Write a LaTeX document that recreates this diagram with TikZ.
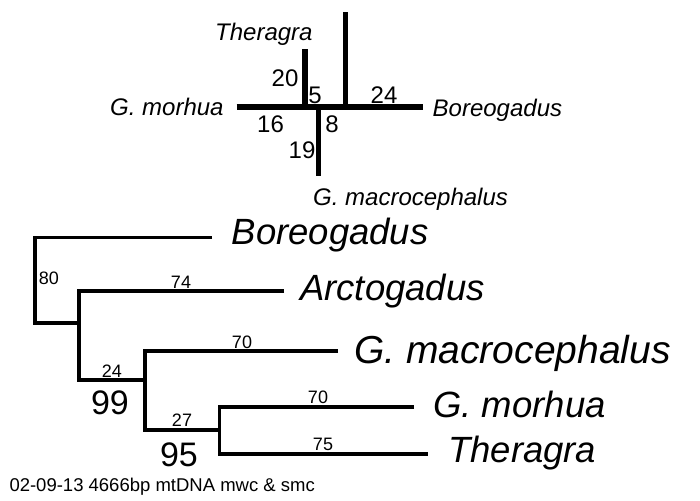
\documentclass[tikz,border=0pt]{standalone}
\usepackage{fontspec}
\setmainfont{Liberation Sans}
\begin{document}
\begin{tikzpicture}[x=1pt,y=-1pt,
  thick tree/.style={line width=5.5pt,line cap=butt,black},
  thin tree/.style={line width=3.6pt,line cap=butt,line join=miter,black},
  toptaxon/.style={inner sep=0pt,anchor=base west,font=\fontsize{24}{28}\selectfont\itshape},
  topnum/.style={inner sep=0pt,font=\fontsize{24}{28}\selectfont},
  taxon/.style={inner sep=0pt,anchor=base west,font=\fontsize{36.5}{40}\selectfont\itshape},
  bignum/.style={inner sep=0pt,font=\fontsize{34}{38}\selectfont},
  smallnum/.style={inner sep=0pt,font=\fontsize{18}{21}\selectfont}]
\useasboundingbox[fill=white] (0,0) rectangle (700,500);
% ---------- unrooted tree (top) ----------
\coordinate (eMo) at (236.7,107);
\coordinate (eBo) at (422.7,107);
\coordinate (j1) at (305,107);
\coordinate (j2) at (318.5,107);
\coordinate (j3) at (345.5,107);
\coordinate (eTh) at (305,49);
\coordinate (eTop) at (345.5,12);
\coordinate (eGm) at (318.5,176);
\draw[thick tree] (eMo) -- (eBo);
\draw[thick tree] (j1) -- (eTh);
\draw[thick tree] (j3) -- (eTop);
\draw[thick tree] (j2) -- (eGm);
\node[toptaxon] (uTh) at (215,41) {Theragra};
\node[toptaxon] (uMo) at (110,115.5) {G. morhua};
\node[toptaxon] (uBo) at (432.5,116.5) {Boreogadus};
\node[toptaxon] (uGm) at (313,205) {G. macrocephalus};
\node[topnum] (n20) at (285,78) {20};
\node[topnum] (n5) at (315,95.5) {5};
\node[topnum] (n24t) at (384,95) {24};
\node[topnum] (n16) at (270.5,124) {16};
\node[topnum] (n8) at (332,124) {8};
\node[topnum] (n19) at (302,150) {19};
% ---------- rooted tree (bottom) ----------
\coordinate (tB) at (212,237.5);
\coordinate (r) at (35,323);
\coordinate (n2) at (79,323);
\coordinate (tA) at (284,291);
\coordinate (n2b) at (79,380);
\coordinate (n3) at (145,380);
\coordinate (tG) at (338,351);
\coordinate (n3b) at (145,430);
\coordinate (n4) at (219.3,430);
\coordinate (tM) at (414,406.7);
\coordinate (n4b) at (219.3,454);
\coordinate (tT) at (427.7,454);
\draw[thin tree] (tB) -| (r) -- (n2);
\draw[thin tree] (tA) -| (n2b) -- (n3);
\draw[thin tree] (tG) -| (n3b) -- (n4);
\draw[thin tree] (tM) -| (n4b) -- (tT);
\node[taxon] (lB) at (231.5,244.5) {Boreogadus};
\node[taxon] (lA) at (300,300.5) {Arctogadus};
\node[taxon,font=\fontsize{39}{43}\selectfont\itshape] (lG) at (354,363.5) {G. macrocephalus};
\node[taxon] (lM) at (433,417.5) {G. morhua};
\node[taxon] (lT) at (448,462.5) {Theragra};
\node[smallnum] (b80) at (49,278) {80};
\node[smallnum] (b74) at (181,282) {74};
\node[smallnum] (b70a) at (242,342) {70};
\node[smallnum] (b24) at (112,371) {24};
\node[bignum] (b99) at (110,403) {99};
\node[smallnum] (b70b) at (318,397) {70};
\node[smallnum] (b27) at (182,420) {27};
\node[smallnum] (b75) at (323,444) {75};
\node[bignum] (b95) at (179,455) {95};
\node[inner sep=0pt,anchor=base west,font=\fontsize{18.5}{22}\selectfont] (foot) at (9.3,491.5) {02-09-13 4666bp mtDNA mwc \& smc};
\end{tikzpicture}
\end{document}
